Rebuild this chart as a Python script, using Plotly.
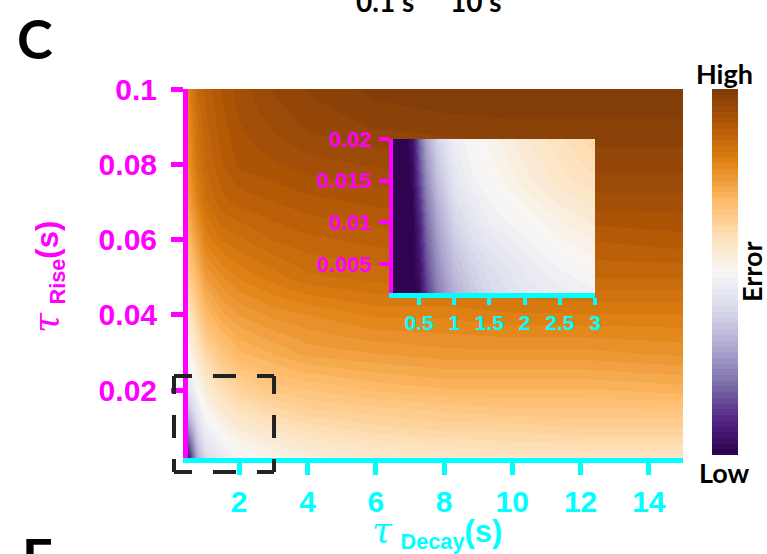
import plotly.graph_objects as go
from plotly.colors import sample_colorscale, diverging

# ---------------- data: normalised fit error (0 = low, 1 = high) ----------------
decay_s = [0.5, 0.75, 1, 1.5, 2, 3, 4, 6, 8, 10, 12, 15]
rise_s = [0.002, 0.005, 0.01, 0.015, 0.02, 0.03, 0.04, 0.05, 0.06, 0.07, 0.08, 0.09, 0.1]
error_main = [
    [0.05, 0.30, 0.40, 0.46, 0.49, 0.52, 0.54, 0.56, 0.57, 0.575, 0.58, 0.58],
    [0.12, 0.34, 0.43, 0.48, 0.51, 0.54, 0.56, 0.58, 0.59, 0.60, 0.60, 0.60],
    [0.25, 0.40, 0.47, 0.52, 0.55, 0.58, 0.60, 0.62, 0.63, 0.63, 0.64, 0.64],
    [0.36, 0.45, 0.51, 0.56, 0.59, 0.62, 0.64, 0.65, 0.66, 0.67, 0.67, 0.67],
    [0.42, 0.50, 0.55, 0.60, 0.63, 0.66, 0.67, 0.69, 0.70, 0.70, 0.70, 0.71],
    [0.50, 0.57, 0.62, 0.67, 0.70, 0.72, 0.74, 0.75, 0.76, 0.76, 0.76, 0.77],
    [0.57, 0.64, 0.69, 0.73, 0.75, 0.77, 0.78, 0.80, 0.80, 0.81, 0.81, 0.81],
    [0.64, 0.70, 0.75, 0.78, 0.80, 0.82, 0.84, 0.85, 0.85, 0.85, 0.86, 0.86],
    [0.69, 0.75, 0.80, 0.83, 0.84, 0.86, 0.87, 0.88, 0.89, 0.89, 0.89, 0.90],
    [0.74, 0.80, 0.84, 0.87, 0.88, 0.89, 0.90, 0.91, 0.92, 0.92, 0.93, 0.93],
    [0.77, 0.83, 0.86, 0.89, 0.91, 0.92, 0.93, 0.94, 0.95, 0.95, 0.96, 0.96],
    [0.78, 0.84, 0.87, 0.90, 0.92, 0.94, 0.955, 0.97, 0.975, 0.98, 0.98, 0.98],
    [0.80, 0.86, 0.88, 0.91, 0.93, 0.955, 0.97, 0.99, 1.0, 1.0, 1.0, 1.0],
]

inset_decay_s = [0.12, 0.3, 0.4, 0.5, 0.6, 0.75, 1.0, 1.25, 1.5, 2.0, 2.5, 3.0]
inset_rise_s = [0.0015, 0.005, 0.01, 0.015, 0.02]
error_inset = [
    [0.0, 0.0, 0.0, 0.02, 0.12, 0.22, 0.31, 0.36, 0.40, 0.44, 0.46, 0.48],
    [0.0, 0.0, 0.0, 0.05, 0.15, 0.25, 0.34, 0.39, 0.42, 0.46, 0.49, 0.51],
    [0.0, 0.0, 0.0, 0.08, 0.19, 0.29, 0.39, 0.44, 0.47, 0.50, 0.53, 0.55],
    [0.0, 0.0, 0.02, 0.13, 0.24, 0.34, 0.44, 0.48, 0.50, 0.54, 0.57, 0.59],
    [0.0, 0.0, 0.04, 0.18, 0.29, 0.39, 0.47, 0.50, 0.52, 0.56, 0.59, 0.62],
]

x_tick_vals = [2, 4, 6, 8, 10, 12, 14]
x_tick_text = ["2", "4", "6", "8", "10", "12", "14"]
y_tick_vals = [0.02, 0.04, 0.06, 0.08, 0.1]
y_tick_text = ["0.02", "0.04", "0.06", "0.08", "0.1"]
inset_x_tick_vals = [0.5, 1, 1.5, 2, 2.5, 3]
inset_x_tick_text = ["0.5", "1", "1.5", "2", "2.5", "3"]
inset_y_tick_vals = [0.005, 0.01, 0.015, 0.02]
inset_y_tick_text = ["0.005", "0.01", "0.015", "0.02"]

x_range = [0.5, 15]
y_range = [0.002, 0.1]
inset_x_range = [0.13, 3.0]
inset_y_range = [0.0015, 0.02]

# region magnified in the inset (drawn as a dashed frame)
zoom_box_x = (0.09, 3.02)
zoom_box_y = (-0.0017, 0.0238)

# ---------------- styling ----------------
MAGENTA = "#ff00ff"
CYAN = "#00ffff"
TICK_FONT = "Liberation Sans, Arial, sans-serif"
LABEL_FONT = "Lato, Calibri, sans-serif"

W, H = 767, 554
L, T, PW, PH = 188, 89, 495, 369   # plot area in pixels


def fx(px):
    return (px - L) / PW


def fy(py):
    return (T + PH - py) / PH


# banded PuOr colormap (purple = low, brown = high)
n_levels = 64
band_colors = sample_colorscale(list(reversed(diverging.PuOr)),
                                [(i + 0.5) / n_levels for i in range(n_levels)])
colorscale = []
for i, c in enumerate(band_colors):
    colorscale.append([i / n_levels, c])
    colorscale.append([(i + 1) / n_levels, c])

fig = go.Figure()

fig.add_trace(go.Heatmap(
    x=decay_s, y=rise_s, z=error_main, zmin=0, zmax=1, zsmooth="best",
    colorscale=colorscale, hoverinfo="skip",
    colorbar=dict(
        x=fx(712), xanchor="left", xpad=0, ypad=0,
        y=fy(272), yanchor="middle",
        thicknessmode="pixels", thickness=26,
        lenmode="pixels", len=366,
        showticklabels=False, ticks="", outlinewidth=0,
    ),
))

fig.add_trace(go.Heatmap(
    x=inset_decay_s, y=inset_rise_s, z=error_inset, zmin=0, zmax=1, zsmooth="best",
    colorscale=colorscale, showscale=False, hoverinfo="skip",
    xaxis="x2", yaxis="y2",
))

axis_common = dict(showgrid=False, zeroline=False, ticks="outside", showline=True)

fig.update_layout(
    width=W, height=H,
    margin=dict(l=L, r=W - L - PW, t=T, b=H - T - PH, pad=0),
    paper_bgcolor="white", plot_bgcolor="white",
    showlegend=False,
    xaxis=dict(
        **axis_common, range=x_range, tickvals=x_tick_vals, ticktext=x_tick_text,
        linecolor=CYAN, linewidth=5, tickcolor=CYAN, tickwidth=5, ticklen=12,
        tickfont=dict(family=TICK_FONT, size=30, color=CYAN, weight="bold"),
        ticklabelstandoff=1,
    ),
    yaxis=dict(
        **axis_common, range=y_range, tickvals=y_tick_vals, ticktext=y_tick_text,
        linecolor=MAGENTA, linewidth=5, tickcolor=MAGENTA, tickwidth=5, ticklen=12,
        tickfont=dict(family=TICK_FONT, size=30, color=MAGENTA, weight="bold"),
        ticklabelstandoff=8,
    ),
    xaxis2=dict(
        **axis_common, domain=[fx(393), fx(595)], anchor="y2",
        range=inset_x_range, tickvals=inset_x_tick_vals, ticktext=inset_x_tick_text,
        linecolor=CYAN, linewidth=5, tickcolor=CYAN, tickwidth=4, ticklen=7,
        tickfont=dict(family=TICK_FONT, size=21, color=CYAN, weight="bold"),
        ticklabelstandoff=0,
    ),
    yaxis2=dict(
        **axis_common, domain=[fy(293), fy(139)], anchor="x2",
        range=inset_y_range, tickvals=inset_y_tick_vals, ticktext=inset_y_tick_text,
        linecolor=MAGENTA, linewidth=4, tickcolor=MAGENTA, tickwidth=4, ticklen=10,
        tickfont=dict(family=TICK_FONT, size=22, color=MAGENTA, weight="bold"),
        ticklabelstandoff=3,
    ),
)

# dashed frame around the magnified region, one side at a time
def to_px_x(v):
    return L + (v - x_range[0]) / (x_range[1] - x_range[0]) * PW


def to_px_y(v):
    return T + PH - (v - y_range[0]) / (y_range[1] - y_range[0]) * PH


bx0, bx1 = to_px_x(zoom_box_x[0]), to_px_x(zoom_box_x[1])
by0, by1 = to_px_y(zoom_box_y[0]), to_px_y(zoom_box_y[1])
dash = "18px,21px,23px,21px,18px,300px"
for (xa, ya, xb, yb) in [(bx0, by1, bx1, by1), (bx0, by0, bx1, by0),
                         (bx0, by1, bx0, by0), (bx1, by1, bx1, by0)]:
    fig.add_shape(type="line", xref="paper", yref="paper",
                  x0=fx(xa), y0=fy(ya), x1=fx(xb), y1=fy(yb),
                  line=dict(color="#222222", width=4, dash=dash), layer="above")

# axis titles
tau = '<span style="font-family:DejaVu Serif;font-style:italic;font-weight:normal;font-size:36px">τ</span>'
fig.add_annotation(
    text=tau + ' <sub><b>Decay</b></sub><b>(s)</b>',
    xref="paper", yref="paper", x=fx(437), y=fy(531), showarrow=False,
    font=dict(family=TICK_FONT, size=31, color=CYAN),
    xanchor="center", yanchor="middle",
)
fig.add_annotation(
    text=tau + ' <sub><b>Rise</b></sub><b>(s)</b>',
    xref="paper", yref="paper", x=fx(47), y=fy(277), showarrow=False,
    font=dict(family=TICK_FONT, size=31, color=MAGENTA),
    textangle=-90, xanchor="center", yanchor="middle",
)

# colour bar labels
label_font = dict(family=LABEL_FONT, size=27, color="black", weight="bold")
fig.add_annotation(text="High", xref="paper", yref="paper", x=fx(724), y=fy(73),
                   showarrow=False, font=label_font, xanchor="center", yanchor="middle")
fig.add_annotation(text="Low", xref="paper", yref="paper", x=fx(724), y=fy(473),
                   showarrow=False, font=label_font, xanchor="center", yanchor="middle")
fig.add_annotation(text="Error", xref="paper", yref="paper", x=fx(751), y=fy(272),
                   showarrow=False, font=label_font, textangle=-90,
                   xanchor="center", yanchor="middle")

# panel letters and header text
fig.add_annotation(text="C", xref="paper", yref="paper", x=fx(35), y=fy(38),
                   showarrow=False, font=dict(family=LABEL_FONT, size=54, color="black", weight="bold"),
                   xanchor="center", yanchor="middle")
fig.add_annotation(text="E", xref="paper", yref="paper", x=fx(20), y=fy(523),
                   showarrow=False, font=dict(family=LABEL_FONT, size=54, color="black", weight="bold"),
                   xanchor="left", yanchor="top")
fig.add_annotation(text="0.1 s", xref="paper", yref="paper", x=fx(385), y=fy(1),
                   showarrow=False, font=dict(family=LABEL_FONT, size=28, color="black", weight="bold"),
                   xanchor="center", yanchor="middle")
fig.add_annotation(text="10 s", xref="paper", yref="paper", x=fx(476), y=fy(1),
                   showarrow=False, font=dict(family=LABEL_FONT, size=28, color="black", weight="bold"),
                   xanchor="center", yanchor="middle")

fig.write_html("out.html")
